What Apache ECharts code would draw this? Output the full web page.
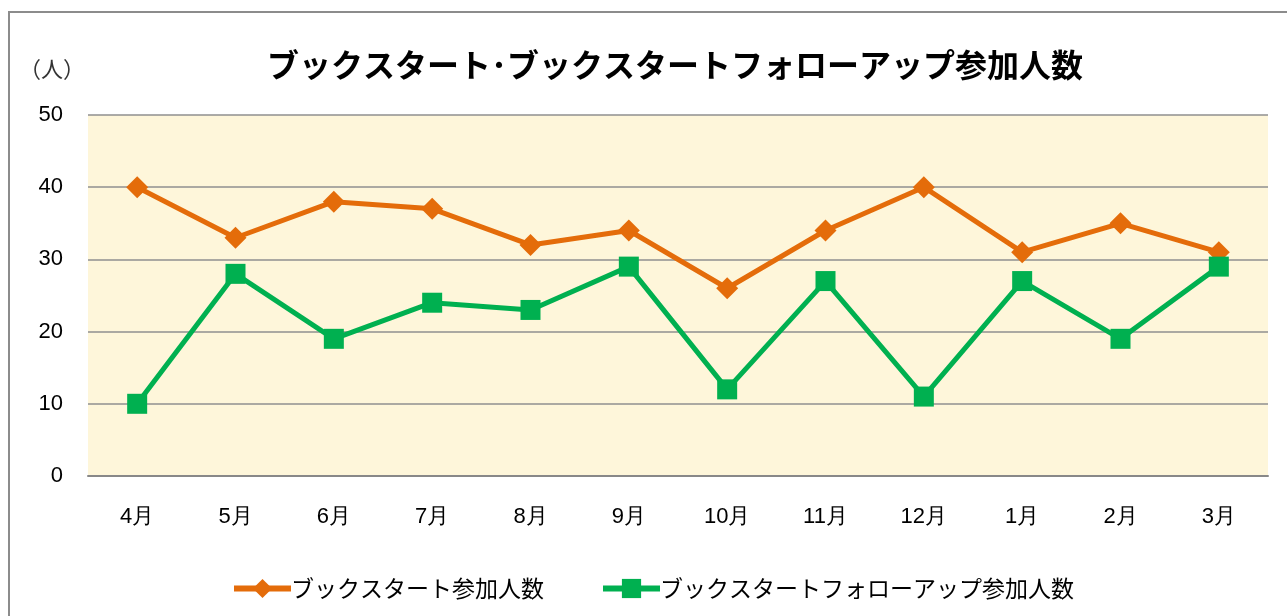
<!DOCTYPE html>
<html>
<head>
<meta charset="utf-8">
<style>
  html, body { margin: 0; padding: 0; background: #fff; }
  #chart { width: 1287px; height: 616px; }
</style>
<script src="https://cdn.jsdelivr.net/npm/echarts@6/dist/echarts.min.js"></script>
</head>
<body>
<div id="chart"></div>
<script>
// データ
const months = ['4月', '5月', '6月', '7月', '8月', '9月', '10月', '11月', '12月', '1月', '2月', '3月'];
const bookstart = [40, 33, 38, 37, 32, 34, 26, 34, 40, 31, 35, 31];
const followup = [10, 28, 19, 24, 23, 29, 12, 27, 11, 27, 19, 29];
const yTicks = [0, 10, 20, 30, 40, 50];

const seriesNames = ['ブックスタート参加人数', 'ブックスタートフォローアップ参加人数'];
const jpFont = '"Noto Sans CJK JP", "Noto Sans", sans-serif';
const numFont = 'Arial, "Liberation Sans", sans-serif';

const chart = echarts.init(document.getElementById('chart'));

const option = {
  backgroundColor: '#fff',
  animation: false,
  title: {
    text: 'ブックスタート･ブックスタートフォローアップ参加人数',
    left: 670,
    textAlign: 'center',
    top: 44,
    textStyle: { fontFamily: jpFont, fontSize: 32, fontWeight: 'bold', color: '#000' }
  },
  graphic: [
    {
      type: 'polyline',
      shape: { points: [[9, 616], [9, 12], [1287, 12]] },
      style: { stroke: '#8c8c8c', lineWidth: 2, fill: null }
    },
    {
      type: 'text',
      left: 19,
      top: 58,
      style: { text: '（人）', fontFamily: jpFont, fontSize: 22, fill: '#333' }
    }
  ],
  legend: {
    bottom: 11,
    left: 226,
    itemGap: 56,
    itemWidth: 57,
    itemHeight: 24,
    lineStyle: { width: 6 },
    textStyle: { fontFamily: jpFont, fontSize: 23, color: '#000', padding: [0, 0, 0, -5] },
    data: seriesNames
  },
  grid: {
    left: 88,
    right: 19,
    top: 115,
    bottom: 140,
    show: true,
    backgroundColor: '#FEF6DA',
    borderWidth: 0
  },
  xAxis: {
    type: 'category',
    data: months,
    boundaryGap: true,
    axisTick: { show: false },
    axisLine: { lineStyle: { color: '#888', width: 2 } },
    axisLabel: { fontFamily: numFont, fontSize: 22, color: '#000', margin: 30 }
  },
  yAxis: {
    type: 'value',
    min: yTicks[0],
    max: yTicks[yTicks.length - 1],
    interval: 10,
    axisLine: { show: false },
    axisTick: { show: false },
    splitLine: { lineStyle: { color: '#8f8f8f', width: 1.5 } },
    axisLabel: { fontFamily: numFont, fontSize: 22, color: '#000', margin: 25 }
  },
  series: [
    {
      name: seriesNames[0],
      type: 'line',
      data: bookstart,
      symbol: 'diamond',
      symbolSize: 22,
      lineStyle: { color: '#E46C0A', width: 5 },
      itemStyle: { color: '#E46C0A' },
      z: 2
    },
    {
      name: seriesNames[1],
      type: 'line',
      data: followup,
      symbol: 'rect',
      symbolSize: 20,
      lineStyle: { color: '#00B050', width: 5 },
      itemStyle: { color: '#00B050' },
      z: 3
    }
  ]
};

chart.setOption(option);
</script>
</body>
</html>
